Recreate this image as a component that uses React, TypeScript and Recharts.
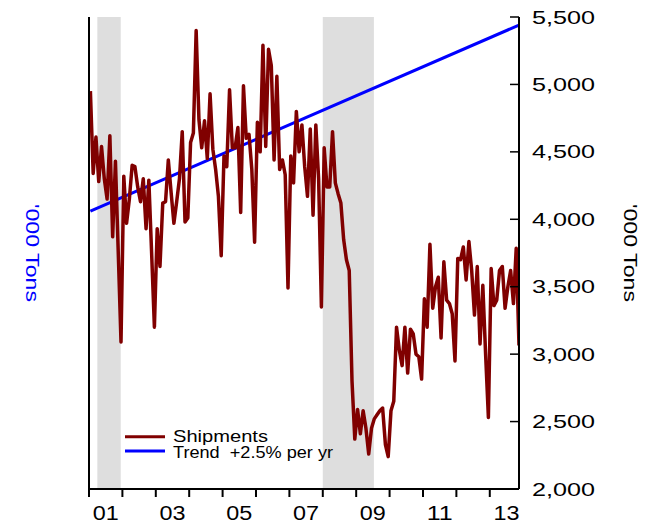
import { ComposedChart, Line, XAxis, YAxis, ReferenceArea, Legend } from 'recharts'

const FONT = '"Liberation Sans", Arial, Helvetica, sans-serif'

// monthly shipments, '000 tons, Jan 2001 .. Nov 2013
const shipments = [
  4950, 4340, 4610, 4280, 4540, 4300, 4150, 4620, 3870, 4430, 3760, 3090, // 2001
  4320, 3970, 4150, 4400, 4390, 4240, 4130, 4300, 3930, 4290, 3750, 3200, // 2002
  3930, 3650, 4120, 4130, 4440, 4200, 3970, 4130, 4300, 4650, 3980, 4010, // 2003
  4570, 4640, 5400, 4740, 4530, 4730, 4450, 4930, 4520, 4370, 4170, 3730, // 2004
  4470, 4390, 4960, 4530, 4530, 4680, 4050, 4990, 4600, 4630, 4370, 3830, // 2005
  4720, 4500, 5290, 4540, 5260, 5140, 4440, 5060, 4370, 4440, 4330, 3490, // 2006
  4470, 4270, 4800, 4500, 4700, 4390, 4170, 4670, 4030, 4700, 4300, 3350, // 2007
  4530, 4240, 4240, 4650, 4270, 4190, 4120, 3850, 3700, 3620, 2800, 2370, // 2008
  2590, 2410, 2580, 2450, 2260, 2450, 2520, 2550, 2580, 2600, 2330, 2240, // 2009
  2580, 2650, 3200, 3030, 2915, 3200, 2860, 3185, 3150, 3000, 2980, 2815, // 2010
  3410, 3200, 3815, 3340, 3500, 3570, 3120, 3685, 3400, 3375, 3300, 2950, // 2011
  3710, 3700, 3795, 3550, 3835, 3620, 3290, 3650, 3075, 3510, 3000, 2530, // 2012
  3635, 3360, 3400, 3620, 3650, 3340, 3500, 3620, 3375, 3785, 3065, // 2013
]

// trend +2.5% per yr, only its two end values are drawn
const trendStart = 4060
const trendEnd = 5440

const startYear = 2001
const yearTicks = [2001, 2002, 2003, 2004, 2005, 2006, 2007, 2008, 2009, 2010, 2011, 2012, 2013]
const yearLabels = ['01', '03', '05', '07', '09', '11', '13']
const labelYears = [2001, 2003, 2005, 2007, 2009, 2011, 2013]
const valueTicks = [2000, 2500, 3000, 3500, 4000, 4500, 5000, 5500]
const recessions = [
  [2001.25, 2001.95],
  [2008.0, 2009.53],
]

const data = shipments.map((v, i) => ({
  t: startYear + (i + 0.5) / 12,
  shipments: v,
  trend: i === 0 ? trendStart : i === shipments.length - 1 ? trendEnd : null,
}))

const labelMap: Record<string, string> = {}
labelYears.forEach((y, i) => {
  labelMap[String(y + 0.5)] = yearLabels[i]
})

const BottomTick = (props: any) => {
  const { x, y, payload } = props
  const v = payload.value
  if (Number.isInteger(v)) {
    return <line x1={x} x2={x} y1={y} y2={y + 8} stroke="#000" strokeWidth={2} />
  }
  return (
    <text x={x} y={y + 31} textAnchor="middle" fontFamily={FONT} fontSize={19.5} fill="#000"
      textLength={26} lengthAdjust="spacingAndGlyphs">
      {labelMap[String(v)]}
    </text>
  )
}

const RightTick = (props: any) => {
  const { x, y, payload } = props
  const txt = payload.value.toLocaleString('en-US')
  return (
    <g>
      <line x1={x - 9} x2={x} y1={y} y2={y} stroke="#000" strokeWidth={1.5} />
      <text x={x + 13} y={y + 6.6} textAnchor="start" fontFamily={FONT} fontSize={18.5} fill="#000"
        textLength={63} lengthAdjust="spacingAndGlyphs">
        {txt}
      </text>
    </g>
  )
}

const axisTitle = (dx: number, color: string) => (props: any) => {
  const vb = props.viewBox || { x: 0, y: 17, width: 0, height: 472 }
  const cx = vb.x + dx
  const cy = vb.y + vb.height / 2
  return (
    <text transform={`translate(${cx},${cy}) rotate(90)`} textAnchor="middle" dy="0.35em"
      fontFamily={FONT} fontSize={18} fill={color} textLength={98} lengthAdjust="spacingAndGlyphs">
      '000 Tons
    </text>
  )
}

const LegendBox = () => (
  <svg width={240} height={40} style={{ display: 'block' }}>
    <line x1={5} x2={45} y1={11.7} y2={11.7} stroke="#800000" strokeWidth={3} />
    <text x={53} y={17.3} fontFamily={FONT} fontSize={17} fill="#000" textLength={95} lengthAdjust="spacingAndGlyphs">
      Shipments
    </text>
    <line x1={5} x2={45} y1={26} y2={26} stroke="#0000ff" strokeWidth={3} />
    <text x={53} y={33} fontFamily={FONT} fontSize={17} fill="#000" textLength={160} lengthAdjust="spacingAndGlyphs"
      style={{ whiteSpace: 'pre' }}>
      {'Trend  +2.5% per yr'}
    </text>
  </svg>
)

export default function App() {
  return (
    <div style={{ position: 'absolute', left: 0, top: 0, width: 654, height: 523, background: '#fff' }}>
      <ComposedChart width={654} height={523} data={data} margin={{ top: 17, right: 0, bottom: 0, left: 0 }}>
        <XAxis
          xAxisId="bottom"
          dataKey="t"
          type="number"
          domain={[2001, 2013.875]}
          allowDataOverflow
          ticks={[...yearTicks, ...labelYears.map((y) => y + 0.5)]}
          interval={0}
          tick={<BottomTick />}
          tickLine={false}
          tickSize={0}
          tickMargin={0}
          height={34}
          axisLine={{ stroke: '#000', strokeWidth: 2 }}
        />
        <XAxis
          xAxisId="top"
          orientation="top"
          dataKey="t"
          type="number"
          domain={[2001, 2013.875]}
          tick={false}
          tickLine={false}
          height={0}
          axisLine={{ stroke: '#000', strokeWidth: 2 }}
        />
        <YAxis
          yAxisId="left"
          orientation="left"
          domain={[2000, 5500]}
          ticks={valueTicks}
          width={89}
          tick={false}
          tickLine={false}
          axisLine={{ stroke: '#000', strokeWidth: 2 }}
          label={{ value: "'000 Tons", content: axisTitle(32, '#0000ff') }}
        />
        <YAxis
          yAxisId="right"
          orientation="right"
          domain={[2000, 5500]}
          ticks={valueTicks}
          interval={0}
          width={135}
          tick={<RightTick />}
          tickLine={false}
          tickSize={0}
          tickMargin={0}
          axisLine={{ stroke: '#000', strokeWidth: 2 }}
          label={{ value: "'000 Tons", content: axisTitle(111, '#000') }}
        />
        {recessions.map(([a, b], i) => (
          <ReferenceArea key={i} xAxisId="bottom" yAxisId="right" x1={a} x2={b} y1={2000} y2={5500}
            fill="#dedede" fillOpacity={1} stroke="none" />
        ))}
        <Line
          xAxisId="bottom"
          yAxisId="right"
          dataKey="trend"
          type="linear"
          stroke="#0000ff"
          strokeWidth={3}
          connectNulls
          dot={false}
          activeDot={false}
          isAnimationActive={false}
        />
        <Line
          xAxisId="bottom"
          yAxisId="right"
          dataKey="shipments"
          type="linear"
          stroke="#800000"
          strokeWidth={3.5}
          strokeLinejoin="round"
          dot={false}
          activeDot={false}
          isAnimationActive={false}
        />
        <Legend
          layout="vertical"
          align="center"
          verticalAlign="middle"
          content={<LegendBox />}
          wrapperStyle={{ left: 120, top: 425, width: 240, height: 40 }}
        />
      </ComposedChart>
    </div>
  )
}
